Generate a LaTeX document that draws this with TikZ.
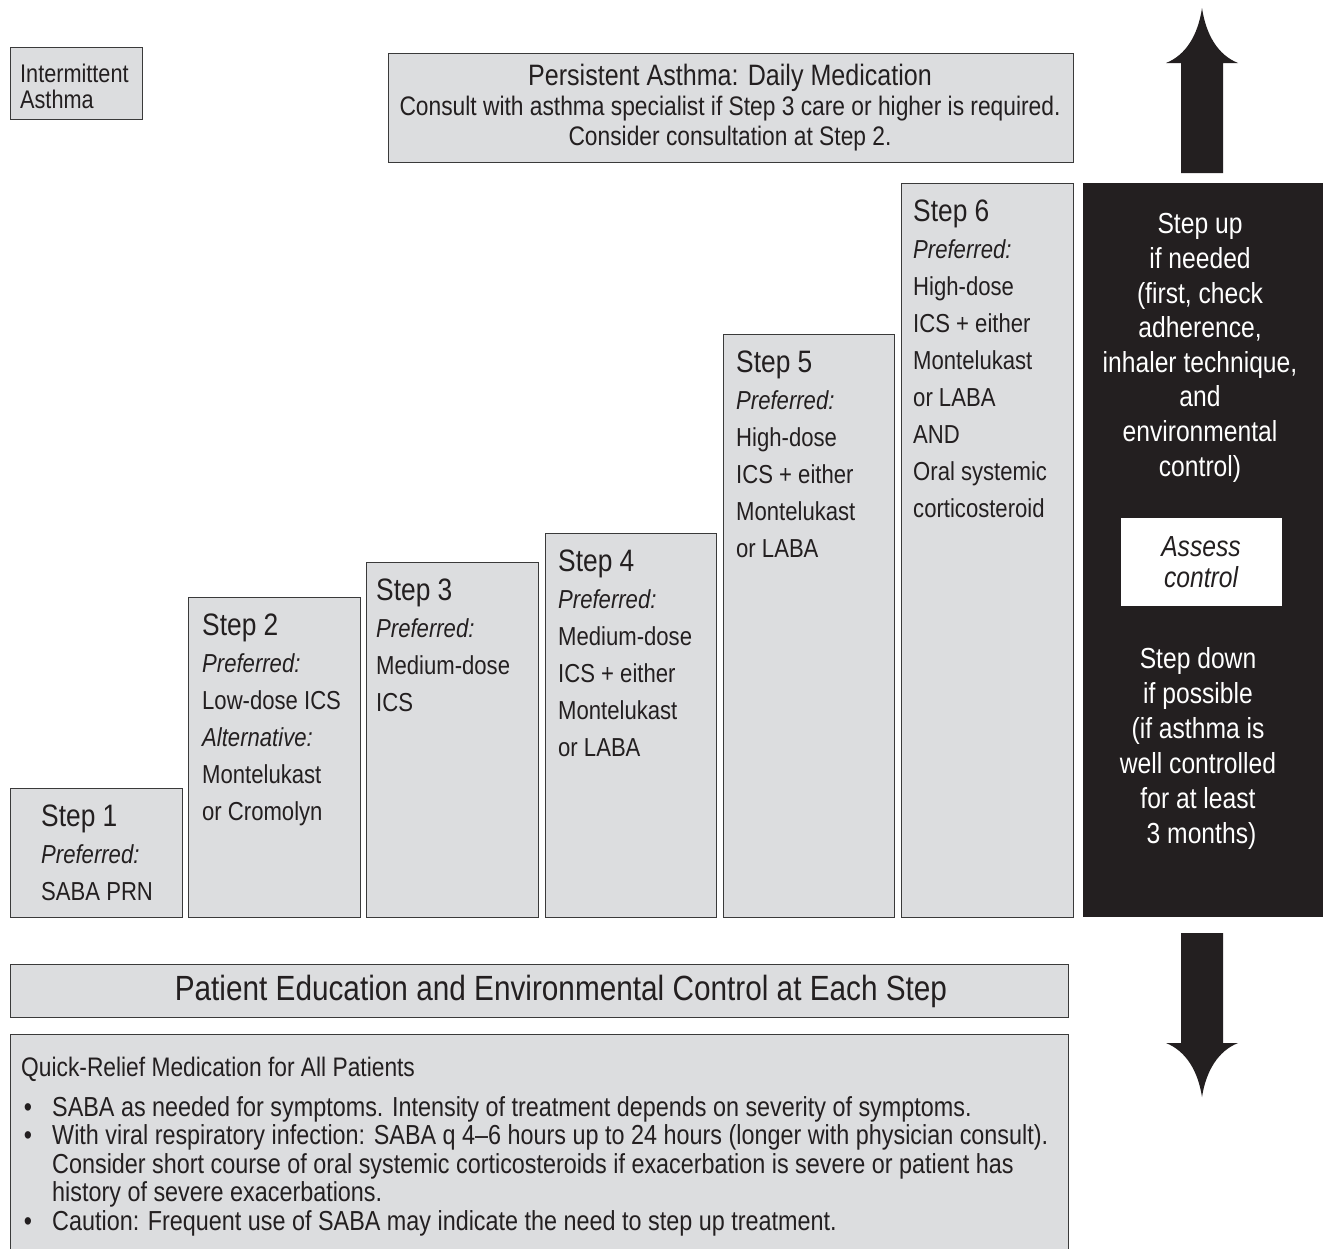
\documentclass[tikz,border=0pt]{standalone}
\usepackage{fontspec}
\setmainfont{Liberation Sans}[FakeStretch=0.85]
\usepackage{tikz}
\usetikzlibrary{positioning}
\definecolor{boxgray}{HTML}{DCDDDF}
\definecolor{edgegray}{HTML}{3A3A3A}
\definecolor{inkblack}{HTML}{231F20}
\tikzset{
  panel/.style={draw=edgegray, line width=1.3pt, fill=boxgray, inner sep=0pt, anchor=north west},
  darkpanel/.style={fill=inkblack, inner sep=0pt, anchor=north west},
  steptext/.style={anchor=base west, align=left, inner sep=0pt, text=inkblack, font=\fontsize{26}{37}\selectfont},
  headtext/.style={anchor=base, align=center, inner sep=0pt, text=inkblack, font=\fontsize{26.8}{30}\selectfont},
  sidetext/.style={anchor=base, align=center, inner sep=0pt, text=white, font=\fontsize{29}{34.6}\selectfont},
  quicktext/.style={anchor=base west, align=left, inner sep=0pt, text=inkblack, font=\fontsize{27.5}{28.5}\selectfont},
  blockarrow/.style={fill=inkblack, draw=none},
}
\newcommand{\steptitle}[1]{{\fontsize{31}{37}\selectfont #1}}

\begin{document}
\begin{tikzpicture}[x=1pt, y=-1pt]
  \useasboundingbox (0,0) rectangle (1327,1248);
  \fill[white] (0,0) rectangle (1327,1248);
  \clip (0,0) rectangle (1327,1248);

  % Header boxes (multi-line texts sit on their last baseline)
  \node[panel, minimum width=132pt, minimum height=72pt] (inter) at (10,47) {};
  \node[steptext, font=\fontsize{25.5}{26}\selectfont] (intertxt)
    at (20,108) {Intermittent\\Asthma};
  \node[panel, minimum width=685pt, minimum height=109pt] (persist) at (388,53) {};
  \node[headtext] (persisttxt) at (730,145)
    {{\fontsize{29.5}{30}\selectfont Persistent Asthma: Daily Medication}\\
     Consult with asthma specialist if Step 3 care or higher is required.\\
     Consider consultation at Step 2.};

  % The six steps, all standing on one floor
  \node[panel, minimum width=172pt, minimum height=129pt] (s1) at (10,788) {};
  \node[panel, minimum width=172pt, minimum height=320pt] (s2) at (188,597) {};
  \node[panel, minimum width=172pt, minimum height=355pt] (s3) at (366,562) {};
  \node[panel, minimum width=171pt, minimum height=384pt] (s4) at (545,533) {};
  \node[panel, minimum width=171pt, minimum height=583pt] (s5) at (723,334) {};
  \node[panel, minimum width=172pt, minimum height=734pt] (s6) at (901,183) {};

  \node[steptext] (t1) at ([shift={(31,112)}]s1.north west)
    {\steptitle{Step 1}\\\textit{Preferred:}\\SABA PRN};
  \node[steptext] (t2) at ([shift={(14,223)}]s2.north west)
    {\steptitle{Step 2}\\\textit{Preferred:}\\Low-dose ICS\\\textit{Alternative:}\\Montelukast\\or Cromolyn};
  \node[steptext] (t3) at ([shift={(10,149)}]s3.north west)
    {\steptitle{Step 3}\\\textit{Preferred:}\\Medium-dose\\ICS};
  \node[steptext] (t4) at ([shift={(13,223)}]s4.north west)
    {\steptitle{Step 4}\\\textit{Preferred:}\\Medium-dose\\ICS + either\\Montelukast\\or LABA};
  \node[steptext] (t5) at ([shift={(13,223)}]s5.north west)
    {\steptitle{Step 5}\\\textit{Preferred:}\\High-dose\\ICS + either\\Montelukast\\or LABA};
  \node[steptext] (t6) at ([shift={(12,334)}]s6.north west)
    {\steptitle{Step 6}\\\textit{Preferred:}\\High-dose\\ICS + either\\Montelukast\\or LABA\\AND\\Oral systemic\\corticosteroid};

  % Step up / step down column
  \node[darkpanel, minimum width=240pt, minimum height=734pt] (ctrl) at (1083,183) {};
  \node[sidetext] (uptxt) at (1200,476)
    {Step up\\if needed\\(first, check\\adherence,\\inhaler technique,\\and\\environmental\\control)};
  \node[fill=white, inner sep=0pt, minimum width=161pt, minimum height=88pt, anchor=north west]
    (assess) at (1121,518) {};
  \node[sidetext, text=inkblack, font=\fontsize{29}{31}\itshape] (assesstxt) at (1201,587)
    {Assess\\control};
  \node[sidetext, font=\fontsize{29}{35}\selectfont] (downtxt) at (1198,843)
    {Step down\\if possible\\(if asthma is\\well controlled\\for at least\\\hspace*{7pt}3 months)};

  \fill[blockarrow] (1181,173) -- (1181,63) -- (1166,63)
    .. controls (1186,55) and (1198,35) .. (1202,8)
    .. controls (1206,35) and (1218,55) .. (1238,63) -- (1223,63) -- (1223,173) -- cycle;
  \fill[blockarrow] (1181,933) -- (1181,1043) -- (1166,1043)
    .. controls (1186,1051) and (1198,1071) .. (1202,1097)
    .. controls (1206,1071) and (1218,1051) .. (1238,1043) -- (1223,1043) -- (1223,933) -- cycle;

  % Bottom boxes
  \node[panel, minimum width=1058pt, minimum height=53pt] (educ) at (10,964) {};
  \node[headtext, font=\fontsize{35}{36}\selectfont] (eductxt) at (561,1000)
    {Patient Education and Environmental Control at Each Step};
  \node[panel, minimum width=1058pt, minimum height=240pt] (quick) at (10,1034) {};
  \node[quicktext, font=\fontsize{26.8}{28.5}\selectfont] (quicktitle) at (21,1076)
    {Quick-Relief Medication for All Patients};
  \node[quicktext] (bullets) at (52,1230)
    {SABA as needed for symptoms. Intensity of treatment depends on severity of symptoms.\\
     With viral respiratory infection: SABA q 4--6 hours up to 24 hours (longer with physician consult).\\
     Consider short course of oral systemic corticosteroids if exacerbation is severe or patient has\\
     history of severe exacerbations.\\
     Caution: Frequent use of SABA may indicate the need to step up treatment.};
  \foreach \y [count=\i] in {1116,1144.5,1230}
    \node[quicktext, anchor=base] (dot\i) at (28,\y) {\textbullet};
\end{tikzpicture}
\end{document}
